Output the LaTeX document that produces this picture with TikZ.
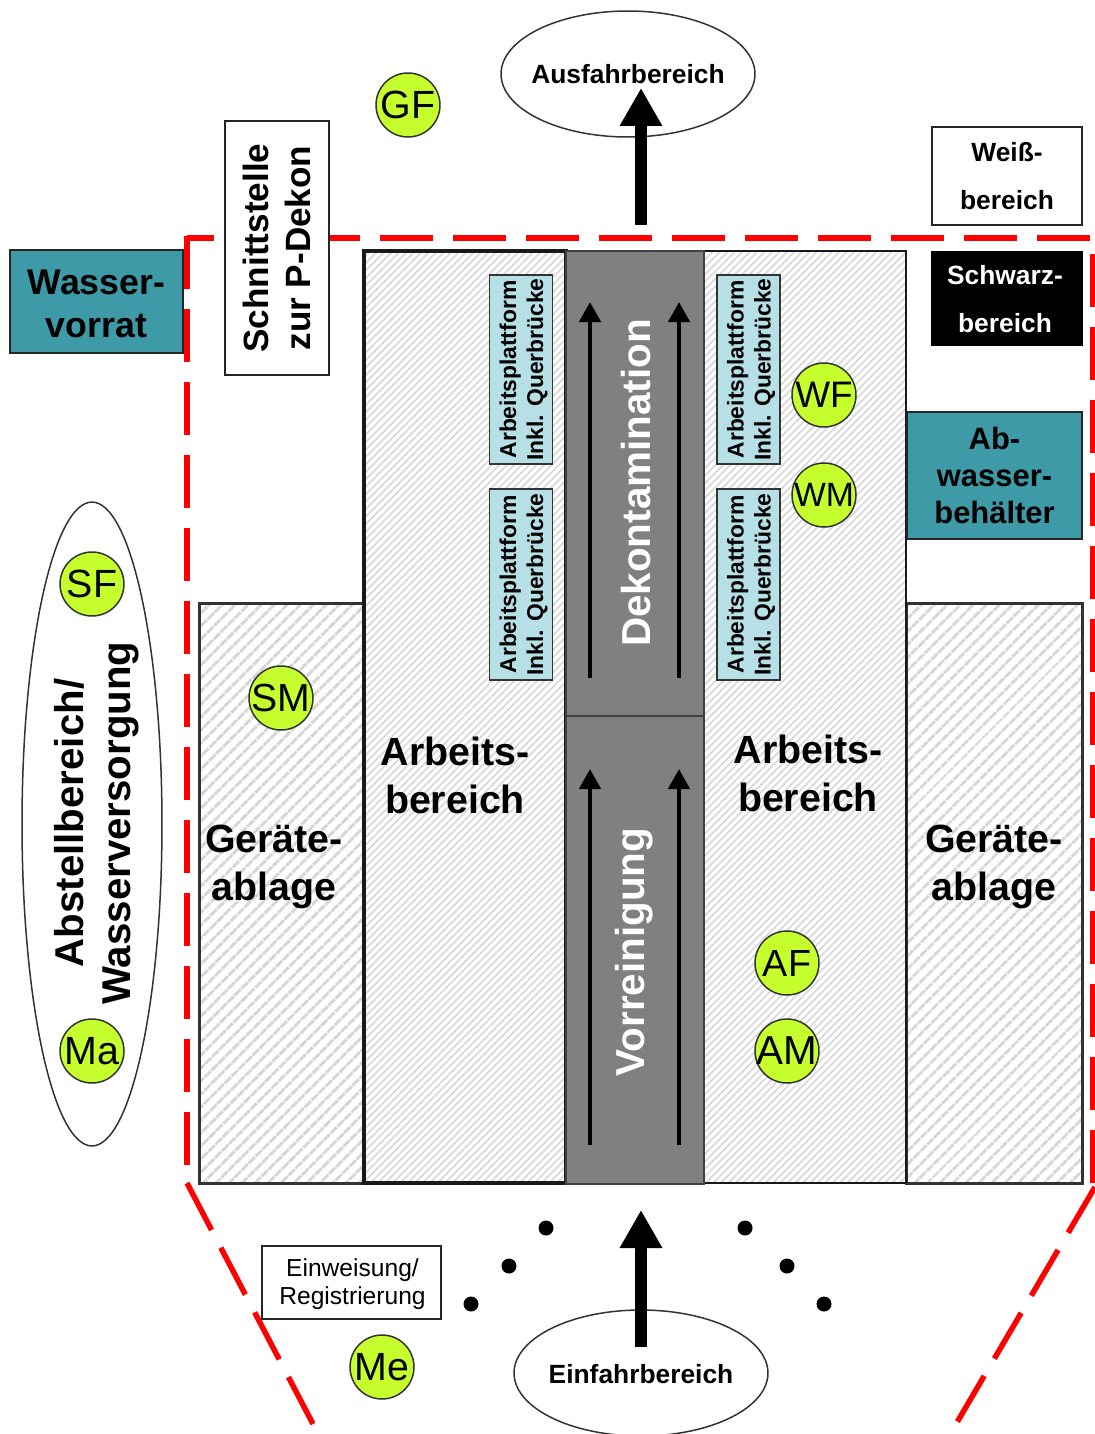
\documentclass[tikz,border=0pt]{standalone}
\usepackage{fontspec}
\setmainfont{Liberation Sans}
\usetikzlibrary{arrows.meta, patterns.meta, shapes.geometric}
\definecolor{tealbox}{HTML}{3E9AA6}
\definecolor{platbox}{HTML}{B7E0E6}
\definecolor{persgreen}{HTML}{C6FF2E}
\definecolor{dashred}{HTML}{FF0000}
\tikzset{
    base/.style={inner sep=0, outer sep=0},
    lbl/.style={base, align=center},
    hatchwide/.style={base, draw=black!80, line width=0.06cm, preaction={fill=white}, pattern={Lines[angle=45, distance=5.4pt, line width=1.8pt]}, pattern color=black!16},
    hatchfine/.style={base, draw=black!90, preaction={fill=white}, pattern={Lines[angle=45, distance=3pt, line width=1pt]}, pattern color=black!15},
    lane/.style={base, fill=black!50, draw=black!75, line width=0.03cm, minimum width=2.76cm},
    plat/.style={base, rotate=90, draw=black!80, line width=0.03cm, fill=platbox},
    platT/.style={lbl, rotate=90, font=\fontsize{13}{15.4}\selectfont\bfseries},
    pers/.style={base, circle, draw=black!80, line width=0.03cm, fill=persgreen, minimum size=1.28cm},
    area/.style={base, draw=black!80, line width=0.03cm, fill=white, ellipse},
    big/.style={lbl, font=\fontsize{22.4}{27.3}\selectfont\bfseries},
    small/.style={lbl, font=\fontsize{15}{27.3}\selectfont\bfseries},
    thinbox/.style={base, draw=black!85, line width=0.03cm, fill=white},
    tealnode/.style={base, draw=black!85, line width=0.03cm, fill=tealbox},
    flow/.style={-{Triangle[width=0.42cm, length=0.4cm]}, line width=0.09cm, black},
    mainflow/.style={-{Triangle[width=0.8cm, length=0.76cm]}, line width=0.24cm, black},
    zone/.style={dashred, line width=0.11cm, dash pattern=on 1.06cm off 0.4cm},
}
\begin{document}
\begin{tikzpicture}[x=0.02cm, y=-0.02cm]
    \useasboundingbox (0, 0) rectangle (1095, 1434);

    % ablage and arbeitsbereich
    \node[hatchwide, minimum width=3.3cm, minimum height=11.62cm] (ablageL) at (281.5, 893.5) {};
    \node[hatchwide, minimum width=3.54cm, minimum height=11.62cm] (ablageR) at (994.5, 893.5) {};
    \node[hatchfine, line width=0.08cm, minimum width=4.04cm, minimum height=18.64cm] (arbeitL) at (465, 717) {};
    \node[hatchfine, line width=0.055cm, minimum width=4.04cm, minimum height=18.64cm] (arbeitR) at (805, 717) {};
    \node[lane, minimum height=9.3cm] (dekon) at (635, 483.5) {};
    \node[lane, minimum height=9.36cm] (vorrein) at (635, 950) {};

    \node[lbl, text=white, rotate=90, font=\fontsize{23}{27}\selectfont\bfseries] (dekonT) at (636, 483) {Dekontamination};
    \node[lbl, text=white, rotate=90, font=\fontsize{23}{27}\selectfont\bfseries] (vorreinT) at (634, 952) {Vorreinigung};
    \node[big] (arbeitLT) at (455, 775) {Arbeits-\\bereich};
    \node[big] (arbeitRT) at (808, 773) {Arbeits-\\bereich};
    \node[big] (ablageLT) at (274, 867) {Geräte-\\ablage};
    \node[big] (ablageRT) at (994, 867) {Geräte-\\ablage};

    % plattformen
    \foreach \name/\x/\y/\h in {platLa/521/369.5/3.78, platLb/521/584.5/3.82, platRa/748.5/369.5/3.78, platRb/748.5/584.5/3.82}{
        \node[plat, minimum width=\h cm, minimum height=1.26cm] (\name) at (\x, \y) {};
        \node[platT] (\name T) at (\x + 2.5, \y) {Arbeitsplattform\\Inkl. Querbrücke};
    }

    % pfeile in den gassen
    \coordinate (dekonAs) at (590, 678); \coordinate (dekonAe) at (590, 302);
    \coordinate (dekonBs) at (679, 678); \coordinate (dekonBe) at (679, 302);
    \coordinate (vorAs) at (590, 1145); \coordinate (vorAe) at (590, 769);
    \coordinate (vorBs) at (679, 1145); \coordinate (vorBe) at (679, 769);
    \draw[flow] (dekonAs) -- (dekonAe);
    \draw[flow] (dekonBs) -- (dekonBe);
    \draw[flow] (vorAs) -- (vorAe);
    \draw[flow] (vorBs) -- (vorBe);

    % bereichsgrenze
    \coordinate (zoneNE) at (1095, 238); \coordinate (zoneNW) at (187, 238); \coordinate (zoneNWb) at (187, 236); \coordinate (zoneW) at (187, 1178);
    \coordinate (zoneE) at (1093, 1183); \coordinate (zoneTopE) at (1093, 241);
    \coordinate (zoneSWa) at (187, 1183); \coordinate (zoneSWb) at (313, 1424);
    \coordinate (zoneSEa) at (1095, 1187); \coordinate (zoneSEb) at (956, 1424);
    \draw[zone, dash phase=1.36cm] (zoneNE) -- (zoneNW);
    \draw[zone] (zoneNWb) -- (zoneW);
    \draw[zone, dash phase=1.2cm] (zoneTopE) -- (zoneE);
    \draw[zone] (zoneSWa) -- (zoneSWb);
    \draw[zone] (zoneSEa) -- (zoneSEb);

    % kaesten
    \node[tealnode, minimum width=3.46cm, minimum height=2.06cm] (wasser) at (96.5, 301.5) {};
    \node[lbl, font=\fontsize{20.3}{24.5}\selectfont\bfseries] (wasserT) at (96.5, 303.5) {Wasser-\\vorrat};
    \node[tealnode, align=center, minimum width=3.5cm, minimum height=2.54cm, font=\fontsize{17.6}{21}\selectfont\bfseries] (abwasser) at (994.5, 475.5) {Ab-\\wasser-\\behälter};
    \node[thinbox, rotate=90, align=center, minimum width=5.08cm, minimum height=2.08cm, font=\fontsize{20}{24.2}\selectfont\bfseries] (schnitt) at (277, 248) {Schnittstelle\\zur P-Dekon};
    \node[thinbox, small, minimum width=3cm, minimum height=1.96cm] (weiss) at (1007, 176) {Weiß-\\bereich};
    \node[base, fill=black, minimum width=3.04cm, minimum height=1.9cm] (schwarz) at (1007, 298.5) {};
    \node[small, text=white] (schwarzT) at (1005, 299.5) {Schwarz-\\bereich};
    \node[thinbox, minimum width=3.58cm, minimum height=1.46cm] (einweis) at (351.5, 1282.5) {};
    \node[lbl, font=\fontsize{14}{16}\selectfont] (einweisT) at (352.5, 1284.5) {Einweisung/\\Registrierung};

    % ellipsen
    \node[area, minimum width=5.08cm, minimum height=2.52cm] (ausfahrt) at (628, 74) {};
    \node[lbl, font=\fontsize{15}{18}\selectfont\bfseries] (ausfahrtT) at (628, 74) {Ausfahrbereich};
    \node[area, minimum width=5.08cm, minimum height=2.52cm] (einfahrt) at (641, 1373) {};
    \node[lbl, font=\fontsize{15}{18}\selectfont\bfseries] (einfahrtT) at (641, 1374) {Einfahrbereich};
    \node[area, minimum width=2.8cm, minimum height=12.88cm] (abstell) at (92, 824) {};
    \node[lbl, rotate=90, font=\fontsize{22.9}{26.7}\selectfont\bfseries] (abstellT) at (97, 823) {Abstellbereich/\\Wasserversorgung};

    % hauptpfeile
    \coordinate (ausS) at (641, 225); \coordinate (ausE) at (641, 88);
    \coordinate (einS) at (641, 1347); \coordinate (einE) at (641, 1210);
    \draw[mainflow] (ausS) -- (ausE);
    \draw[mainflow] (einS) -- (einE);

    % personal
    \foreach \name/\x/\y/\fs in {GF/408/105/22.4, SF/92/584/22.4, Ma/92/1051/22.4, SM/281/698/22.3, WF/824/395/21, WM/824/495/19.2, AF/787/963/21.5, AM/787/1051/23, Me/382/1367/22.4}{
        \node[pers] (\name) at (\x, \y) {};
        \node[lbl, font=\fontsize{\fs}{26}\selectfont] (\name T) at (\x, \y) {\name};
    }

    % punkte
    \foreach \x/\y [count=\i] in {546/1228, 509/1266, 471/1304, 745/1228, 787/1266, 824/1304}
        \node[base, circle, fill=black, minimum size=0.3cm] (dot\i) at (\x, \y) {};
\end{tikzpicture}
\end{document}
